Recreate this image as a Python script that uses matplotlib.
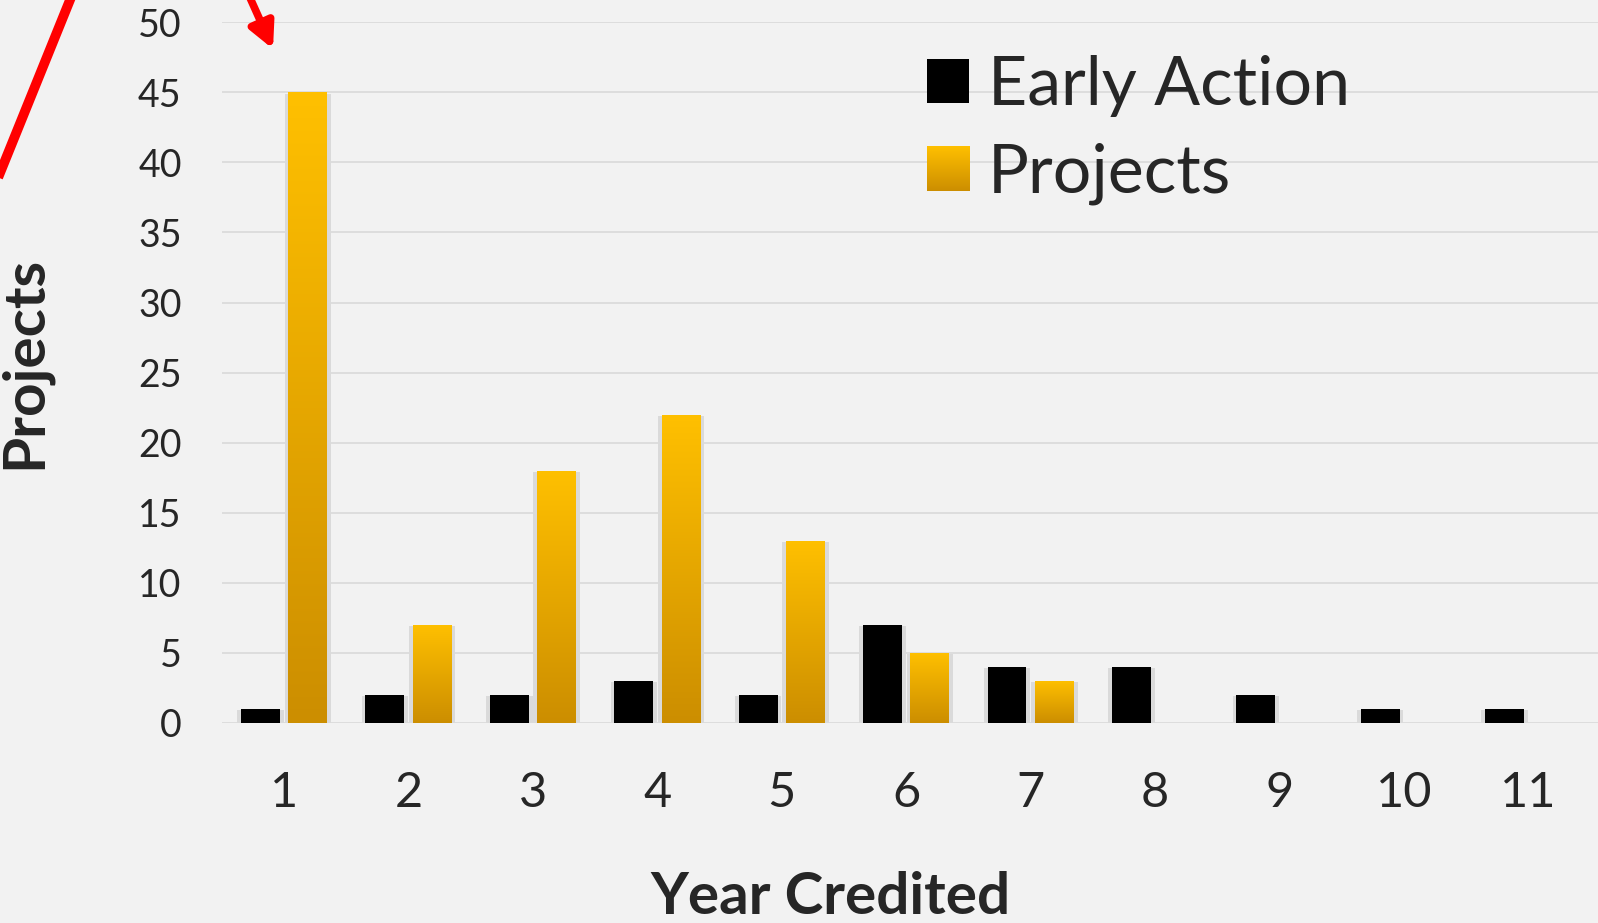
import numpy as np
import matplotlib
matplotlib.use("Agg")
import matplotlib.pyplot as plt
from matplotlib.patches import Patch, FancyArrowPatch
from matplotlib.lines import Line2D
from matplotlib.colors import LinearSegmentedColormap
from matplotlib.legend_handler import HandlerBase
from matplotlib.image import BboxImage
from matplotlib.transforms import Bbox, TransformedBbox

years = [1, 2, 3, 4, 5, 6, 7, 8, 9, 10, 11]
early_action = [1, 2, 2, 3, 2, 7, 4, 4, 2, 1, 1]
projects = [45, 7, 18, 22, 13, 5, 3, 0, 0, 0, 0]

plt.rcParams["font.family"] = ["Lato", "DejaVu Sans"]
text_col = "#262626"
bg = "#F2F2F2"
gold = LinearSegmentedColormap.from_list("gold", ["#CC8E00", "#FFC000"])
grad = np.linspace(0, 1, 256).reshape(-1, 1)


class GradHandler(HandlerBase):
    def create_artists(self, legend, orig_handle, xdescent, ydescent,
                       width, height, fontsize, trans):
        bb = Bbox.from_bounds(-xdescent, -ydescent, width, height)
        img = BboxImage(TransformedBbox(bb, trans), cmap=gold,
                        interpolation="bilinear", origin="lower")
        img.set_data(grad)
        return [img]


fig = plt.figure(figsize=(15.98, 9.23), dpi=100, facecolor=bg)
ax = fig.add_axes([0.1389, 0.2171, 0.8611, 0.7586], facecolor=bg)

x = np.array(years)
w = 0.313
off = 0.19

# soft shadows
ax.bar(x - off, np.array(early_action) + 0.12, width=w + 0.06, bottom=-0.25,
       color="#DADADA", zorder=1.5)
pv = np.array(projects)
ax.bar(x[pv > 0] + off, pv[pv > 0] + 0.12, width=w + 0.06, bottom=-0.25,
       color="#DADADA", zorder=1.5)

ax.bar(x - off, early_action, width=w, color="black", zorder=3)
gbars = ax.bar(x + off, projects, width=w, color="none", zorder=3)
for b in gbars:
    h = b.get_height()
    if h <= 0:
        continue
    x0 = b.get_x()
    im = ax.imshow(grad, cmap=gold, origin="lower", aspect="auto",
                   extent=(x0, x0 + b.get_width(), 0, h), zorder=3,
                   interpolation="bilinear")
    im.set_clip_path(b)

ax.set_xlim(0.5, 11.56)
ax.set_ylim(0, 50)
ax.set_yticks(range(0, 51, 5))
ax.set_xticks(years)
ax.yaxis.grid(True, color="#D9D9D9", linewidth=1.2, zorder=0)
ax.set_axisbelow(True)
for s in ax.spines.values():
    s.set_visible(False)
ax.tick_params(axis="y", length=0, pad=29, labelsize=27, labelcolor=text_col)
ax.tick_params(axis="x", length=0, pad=35, labelsize=35, labelcolor=text_col)

ax.set_xlabel("Year Credited", fontsize=42, fontweight="bold", color=text_col)
ax.xaxis.set_label_coords(0.442, -0.212)
ax.set_ylabel("Projects", fontsize=42, fontweight="bold", color=text_col)
ax.yaxis.set_label_coords(-0.124, 0.514)

h1 = Patch(facecolor="black")
h2 = Patch(facecolor="#FFC000")
leg = ax.legend([h1, h2], ["Early Action", "Projects"], loc="upper left",
                bbox_to_anchor=(0.4926, 0.993), frameon=False, fontsize=49,
                handlelength=0.62, handleheight=0.62, handletextpad=0.27,
                labelspacing=0.38, borderaxespad=0, handler_map={h2: GradHandler()})
for t in leg.get_texts():
    t.set_color(text_col)

# red annotation strokes coming from off-chart
W, H = 1598, 923
fig.add_artist(Line2D([0 / W, 72 / W], [1 - 173 / H, 1 + 5 / H],
                      transform=fig.transFigure, color="red", linewidth=7))
fig.add_artist(FancyArrowPatch((242 / W, 1 + 20 / H), (273 / W, 1 - 49 / H),
                               transform=fig.transFigure, color="red",
                               arrowstyle="-|>,head_length=0.75,head_width=0.38",
                               mutation_scale=20, linewidth=5.5, shrinkA=0, shrinkB=0))

fig.savefig("out.png", dpi=100, facecolor=bg)
